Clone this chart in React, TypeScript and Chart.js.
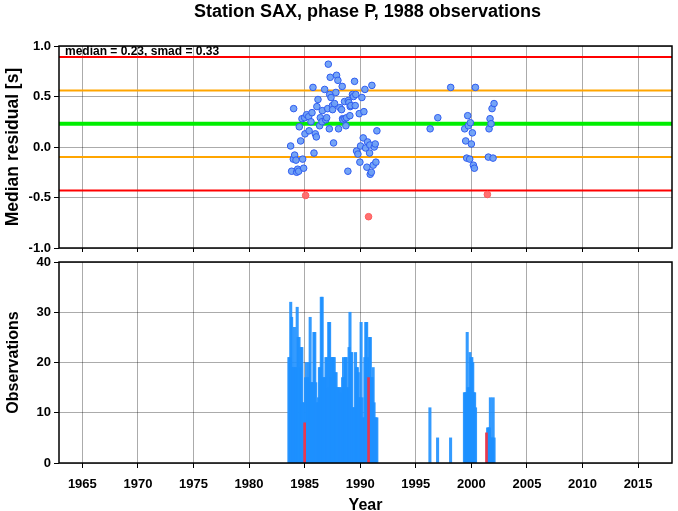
import React, { useEffect, useRef } from 'react';
import { Chart, registerables } from 'chart.js';

Chart.register(...registerables);

// ---------- text ----------
const titleText = 'Station SAX, phase P, 1988 observations';
const statsText = 'median = 0.23, smad = 0.33';
const topYTitle = 'Median residual [s]';
const botYTitle = 'Observations';
const xTitle = 'Year';

// ---------- axes ----------
const xMin = 1962.9;
const xMax = 2018.05;
const yearTicks = [1965, 1970, 1975, 1980, 1985, 1990, 1995, 2000, 2005, 2010, 2015];
const residTicks = [-1, -0.5, 0, 0.5, 1];
const countTicks = [0, 10, 20, 30, 40];

// ---------- reference levels (median, +-1 smad, +-2 smad) ----------
const levelValues = [0.89, 0.56, 0.23, -0.1, -0.43];

// ---------- monthly median residuals ----------
const residYears = [
  1983.74, 1983.83, 1983.98, 1984.01, 1984.1, 1984.22, 1984.28, 1984.37, 1984.46, 1984.52,
  1984.64, 1984.76, 1984.82, 1984.91, 1985.0, 1985.03, 1985.18, 1985.36, 1985.4, 1985.57,
  1985.66, 1985.75, 1985.84, 1985.96, 1986.05, 1986.1, 1986.2, 1986.35, 1986.41, 1986.56,
  1986.59, 1986.8, 1986.89, 1986.98, 1987.07, 1987.13, 1987.22, 1987.25, 1987.3, 1987.37,
  1987.5, 1987.51, 1987.6, 1987.69, 1987.81, 1987.87, 1987.99, 1988.05, 1988.17, 1988.32,
  1988.38, 1988.41, 1988.44, 1988.59, 1988.62, 1988.71, 1988.77, 1988.89, 1988.92, 1988.98,
  1989.07, 1989.1, 1989.16, 1989.3, 1989.4, 1989.49, 1989.55, 1989.6, 1989.67, 1989.79,
  1989.91, 1989.97, 1990.03, 1990.15, 1990.27, 1990.33, 1990.42, 1990.48, 1990.6, 1990.66,
  1990.84, 1990.86, 1990.9, 1991.0, 1991.05, 1991.17, 1991.26, 1991.35, 1991.41, 1991.5,
  1996.29, 1996.98, 1998.14, 1999.4, 1999.49, 1999.58, 1999.67, 1999.73, 1999.85, 1999.91,
  2000.0, 2000.09, 2000.18, 2000.27, 2000.36, 2001.53, 2001.59, 2001.68, 2001.77, 2001.86,
  2001.95, 2002.04,
];
const residValues = [
  0.01, -0.24, -0.12, 0.38, -0.08, -0.13, -0.25, -0.22, -0.24, 0.2,
  0.06, 0.28, -0.12, -0.21, 0.29, 0.13, 0.32, 0.3, 0.16, 0.25,
  0.34, 0.59, -0.06, 0.13, 0.1, 0.4, 0.47, 0.21, 0.29, 0.25,
  0.36, 0.57, 0.27, 0.29, 0.38, 0.82, 0.18, 0.52, 0.69, 0.49,
  0.41, 0.37, 0.04, 0.43, 0.54, 0.71, 0.66, 0.18, 0.39, 0.37,
  0.6, 0.28, 0.27, 0.45, 0.28, 0.21, 0.29, -0.24, 0.46, 0.44,
  0.31, 0.4, 0.41, 0.52, 0.5, 0.65, 0.41, 0.52, -0.04, -0.07,
  0.33, -0.15, 0.01, 0.49, 0.09, 0.35, 0.57, -0.01, -0.2, 0.05,
  -0.06, 0.02, -0.27, -0.25, 0.61, -0.18, 0.0, 0.03, -0.15, 0.16,
  0.18, 0.29, 0.59, 0.18, 0.06, -0.11, 0.31, 0.21, -0.12, 0.24,
  0.03, 0.14, -0.18, -0.21, 0.59, -0.1, 0.18, 0.28, 0.23, 0.38,
  -0.11, 0.43,
];
const outlierYears = [1985.09, 1990.75, 2001.44];
const outlierValues = [-0.48, -0.69, -0.47];

// ---------- monthly observation counts ----------
const obsStartA = 1983.58; // first month of the 1983-1991 run, one value per month
const obsCountsA = [
  21, 21, 32, 29, 19, 19, 27, 19, 19, 31, 25, 25, 19, 23, 23, 12, 12, 0, 17, 20,
  17, 17, 20, 29, 16, 16, 16, 26, 26, 16, 12, 12, 13, 19, 19, 33, 33, 17, 17, 17,
  21, 21, 15, 28, 28, 17, 21, 21, 21, 21, 18, 18, 15, 15, 15, 15, 14, 15, 17, 21,
  17, 21, 21, 15, 15, 23, 30, 22, 22, 11, 11, 11, 22, 19, 19, 18, 13, 13, 28, 13,
  9, 9, 21, 28, 28, 21, 0, 25, 25, 17, 17, 19, 12, 9, 9, 9,
];
const obsYearsB = [1996.27, 1996.96, 1998.13];
const obsCountsB = [11, 5, 5];
const obsStartC = 1999.375; // 1999-2000 run, one value per month
const obsCountsC = [14, 14, 14, 26, 15, 15, 22, 21, 21, 20, 14, 14, 11];
const obsStartD = 2001.46; // 2001-2002 run, one value per month
const obsCountsD = [7, 7, 7, 13, 5, 5, 13, 5];
const flaggedYears = [1985.0, 1990.75, 2001.36];
const flaggedCounts = [8, 17, 6];

// ---------- styles ----------
const FONT = 'Liberation Sans';
const levelColors = ['#ff0000', '#ffa500', '#00ee00', '#ffa500', '#ff0000'];
const levelWidths = [2, 2, 4, 2, 2];
const gridColor = 'rgba(0,0,0,0.33)';

const monthly = (start: number, counts: number[]) =>
  counts.map((c, i) => ({ x: start + i / 12, y: c }));

const framePlugin = {
  id: 'frame',
  afterDraw(chart: any) {
    const { ctx, chartArea: a } = chart;
    ctx.save();
    ctx.strokeStyle = '#000';
    ctx.lineWidth = 1.5;
    ctx.strokeRect(a.left, a.top, a.right - a.left, a.bottom - a.top);
    ctx.restore();
  },
};

const statsPlugin = {
  id: 'stats',
  beforeDatasetsDraw(chart: any) {
    const { ctx, chartArea: a } = chart;
    ctx.save();
    ctx.font = `bold 12px "${FONT}"`;
    ctx.fillStyle = '#000';
    ctx.textBaseline = 'middle';
    ctx.textAlign = 'left';
    ctx.fillText(statsText, a.left + 6, a.top + 6);
    ctx.restore();
  },
};

// title centred over the plotting area, as in the reference
const plotTitlePlugin = {
  id: 'plotTitle',
  afterDraw(chart: any) {
    const { ctx, chartArea: a } = chart;
    ctx.save();
    ctx.font = `bold 18px "${FONT}"`;
    ctx.fillStyle = '#000';
    ctx.textBaseline = 'middle';
    ctx.textAlign = 'center';
    ctx.fillText(titleText, (a.left + a.right) / 2 + 2, 12);
    ctx.restore();
  },
};

const fixedTicks = (vals: number[]) => (scale: any) => {
  scale.ticks = vals.map((v) => ({ value: v }));
};

const fitWidth = (w: number) => (s: any) => {
  s.width = w;
  s.paddingTop = 0;
  s.paddingBottom = 0;
};
const fitHeight = (h: number) => (s: any) => {
  s.height = h;
  s.paddingLeft = 0;
  s.paddingRight = 0;
};

export default function App() {
  const topRef = useRef<HTMLCanvasElement>(null);
  const botRef = useRef<HTMLCanvasElement>(null);

  useEffect(() => {
    document.body.style.margin = '0';
    document.body.style.overflow = 'hidden';
    Chart.defaults.color = '#000';
    Chart.defaults.font.family = FONT;

    const tickFont = { family: FONT, size: 13, weight: 'bold' as const };
    const titleFont = { family: FONT, size: 16, weight: 'bold' as const };

    const top = new Chart(topRef.current!, {
      type: 'scatter',
      data: {
        datasets: [
          {
            label: 'median residual',
            data: residYears.map((x, i) => ({ x, y: residValues[i] })),
            pointRadius: 3.3,
            pointBackgroundColor: 'rgba(110,160,245,0.95)',
            pointBorderColor: '#2f5cf0',
            pointBorderWidth: 1,
            order: 0,
          },
          {
            label: 'outliers',
            data: outlierYears.map((x, i) => ({ x, y: outlierValues[i] })),
            pointRadius: 3.3,
            pointBackgroundColor: 'rgba(255,105,105,0.95)',
            pointBorderColor: 'rgba(255,90,90,1)',
            pointBorderWidth: 1,
            order: 0,
          },
          ...levelValues.map((v, i) => ({
            label: 'level ' + i,
            data: [
              { x: xMin, y: v },
              { x: xMax, y: v },
            ],
            showLine: true,
            borderColor: levelColors[i],
            borderWidth: levelWidths[i],
            pointRadius: 0,
            order: 1,
          })),
        ],
      },
      options: {
        animation: false,
        responsive: false,
        devicePixelRatio: 1,
        layout: { padding: { top: 46, right: 6, bottom: 0, left: 0 } },
        plugins: {
          legend: { display: false },
          tooltip: { enabled: false },
          title: { display: false },
        },
        scales: {
          x: {
            type: 'linear',
            min: xMin,
            max: xMax,
            afterBuildTicks: fixedTicks(yearTicks),
            ticks: { display: false },
            grid: { color: gridColor, tickLength: 4, tickColor: '#000', drawTicks: true },
            border: { display: false },
            afterFit: fitHeight(7),
          },
          y: {
            type: 'linear',
            min: -1,
            max: 1,
            afterBuildTicks: fixedTicks(residTicks),
            ticks: {
              font: tickFont,
              color: '#000',
              padding: 3,
              callback: (v: any) => Number(v).toFixed(1),
            },
            grid: { color: gridColor, tickLength: 5, tickColor: '#000' },
            border: { display: false },
            title: {
              display: true,
              text: topYTitle,
              font: { ...titleFont, size: 17.5 },
              color: '#000',
              padding: { top: 3, bottom: 0 },
            },
            afterFit: fitWidth(59),
          },
        },
      },
      plugins: [framePlugin, statsPlugin, plotTitlePlugin],
    });

    const blueBars = [
      ...monthly(obsStartA, obsCountsA),
      ...obsYearsB.map((x, i) => ({ x, y: obsCountsB[i] })),
      ...monthly(obsStartC, obsCountsC),
      ...monthly(obsStartD, obsCountsD),
    ];

    const bot = new Chart(botRef.current!, {
      type: 'bar',
      data: {
        datasets: [
          {
            label: 'flagged',
            data: flaggedYears.map((x, i) => ({ x, y: flaggedCounts[i] })),
            backgroundColor: '#e8384f',
            barThickness: 2,
            grouped: false,
            order: 0,
          } as any,
          {
            label: 'observations',
            data: blueBars,
            backgroundColor: 'rgba(30,144,255,0.9)',
            barThickness: 2.4,
            grouped: false,
            order: 1,
          } as any,
        ],
      },
      options: {
        animation: false,
        responsive: false,
        devicePixelRatio: 1,
        layout: { padding: { top: 7, right: 6, bottom: 0, left: 0 } },
        plugins: { legend: { display: false }, tooltip: { enabled: false } },
        scales: {
          x: {
            type: 'linear',
            min: xMin,
            max: xMax,
            offset: false,
            afterBuildTicks: fixedTicks(yearTicks),
            ticks: {
              font: tickFont,
              color: '#000',
              padding: 9,
              maxRotation: 0,
              autoSkip: false,
              callback: (v: any) => String(v),
            },
            grid: { color: gridColor, tickLength: 5, tickColor: '#000', offset: false },
            border: { display: false },
            title: {
              display: true,
              text: xTitle,
              font: { ...titleFont, lineHeight: 1 },
              color: '#000',
              padding: { top: 0, bottom: -3 },
            },
            afterFit: fitHeight(48),
          },
          y: {
            type: 'linear',
            min: 0,
            max: 40,
            afterBuildTicks: fixedTicks(countTicks),
            ticks: { font: tickFont, color: '#000', padding: 3 },
            grid: { color: gridColor, tickLength: 5, tickColor: '#000' },
            border: { display: false },
            title: { display: true, text: botYTitle, font: titleFont, color: '#000', padding: { top: 4, bottom: 0 } },
            afterFit: fitWidth(59),
          },
        },
      },
      plugins: [framePlugin],
    });

    return () => {
      top.destroy();
      bot.destroy();
    };
  }, []);

  return (
    <div style={{ position: 'relative', width: 678, height: 511 }}>
      <canvas
        ref={topRef}
        width={678}
        height={255}
        style={{ position: 'absolute', left: 0, top: 0, width: 678, height: 255 }}
      />
      <canvas
        ref={botRef}
        width={678}
        height={256}
        style={{ position: 'absolute', left: 0, top: 255, width: 678, height: 256 }}
      />
    </div>
  );
}
